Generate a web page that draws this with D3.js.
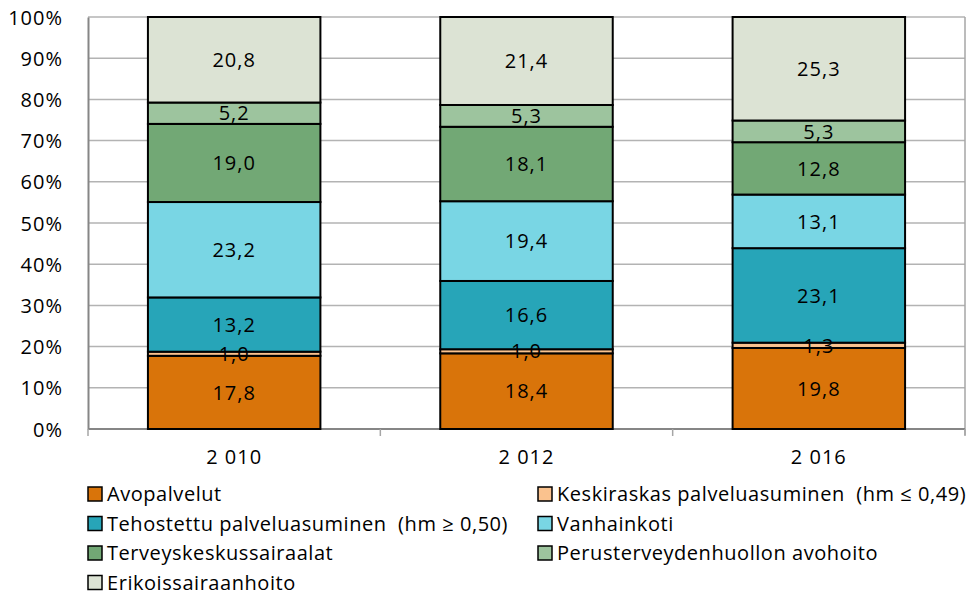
<!DOCTYPE html>
<html><head><meta charset="utf-8">
<script src="https://cdn.jsdelivr.net/npm/d3@7"></script>
<style>body{margin:0;background:#fff}svg{display:block}text{font-family:"Open Sans","Liberation Sans",sans-serif;fill:#000;white-space:pre}</style>
</head><body><svg id="c" width="974" height="595"></svg>
<script>
const categories = ["2 010", "2 012", "2 016"];
const seriesNames = ["Avopalvelut", "Keskiraskas palveluasuminen  (hm ≤ 0,49)", "Tehostettu palveluasuminen  (hm ≥ 0,50)", "Vanhainkoti", "Terveyskeskussairaalat", "Perusterveydenhuollon avohoito", "Erikoissairaanhoito"];
const avopalvelut = [17.8, 18.4, 19.8];
const keskiraskas = [1.0, 1.0, 1.3];
const tehostettu = [13.2, 16.6, 23.1];
const vanhainkoti = [23.2, 19.4, 13.1];
const terveyskeskus = [19.0, 18.1, 12.8];
const perusterveys = [5.2, 5.3, 5.3];
const erikois = [20.8, 21.4, 25.3];
const yTicks = [0, 10, 20, 30, 40, 50, 60, 70, 80, 90, 100];
const colors = ["#D9740A", "#FAC28E", "#27A5B8", "#79D6E4", "#72A875", "#9DC49E", "#DCE3D4"];

const series = [avopalvelut, keskiraskas, tehostettu, vanhainkoti, terveyskeskus, perusterveys, erikois];
const fmt = v => v.toFixed(1).replace(".", ",");

const svg = d3.select("#c");
const L = 88, R = 965, T = 17, B = 429;
const x = d3.scaleBand().domain(categories).range([L, R]).paddingInner(0.41).paddingOuter(0.205);
const y = d3.scaleLinear().domain([0, 100]).range([B, T]);

svg.append("g").selectAll("line").data(yTicks.filter(t => t > 0)).join("line")
  .attr("x1", L).attr("x2", R).attr("y1", d => y(d)).attr("y2", d => y(d))
  .attr("stroke", "#b3b3b3").attr("stroke-width", 1.5);
svg.append("line").attr("x1", R).attr("x2", R).attr("y1", T).attr("y2", B + 6)
  .attr("stroke", "#a6a6a6").attr("stroke-width", 1.5);

const yAxis = svg.append("g").attr("transform", `translate(${L},0)`)
  .call(d3.axisLeft(y).tickValues(yTicks).tickFormat(d => d + "%").tickSize(0).tickPadding(25));
yAxis.select(".domain").attr("stroke", "#868686").attr("stroke-width", 2);
yAxis.selectAll("text").style("font-size", "20px").attr("dy", "0.35em").style("letter-spacing", "1px");

const xAxis = svg.append("g").attr("transform", `translate(0,${B})`)
  .call(d3.axisBottom(x).tickSize(0).tickPadding(21));
xAxis.select(".domain").attr("stroke", "#868686").attr("stroke-width", 2).attr("d", `M${L},0H${R}`);
xAxis.selectAll("text").style("font-size", "20px").style("letter-spacing", "1px");
const bounds = [L, ...categories.map(c => x(c) + x.bandwidth() + x.step() * x.paddingInner() / 2)];
bounds[3] = R;
svg.append("g").selectAll("line").data(bounds).join("line")
  .attr("x1", d => d).attr("x2", d => d).attr("y1", B).attr("y2", B + 7)
  .attr("stroke", "#a6a6a6").attr("stroke-width", 1.5);

const rows = categories.map((c, i) => {
  const o = { cat: c };
  const tot = d3.sum(series, s => s[i]);
  series.forEach((s, j) => { o["s" + j] = s[i] / tot * 100; o["v" + j] = s[i]; });
  return o;
});
const keys = series.map((_, j) => "s" + j);
const stack = d3.stack().keys(keys)(rows);

const g = svg.append("g");
stack.forEach((layer, j) => {
  g.append("g").selectAll("rect").data(layer).join("rect")
    .attr("x", d => x(d.data.cat)).attr("width", x.bandwidth())
    .attr("y", d => y(d[1])).attr("height", d => y(d[0]) - y(d[1]))
    .attr("fill", colors[j]).attr("stroke", "#000").attr("stroke-width", 2);
});
stack.forEach((layer, j) => {
  g.append("g").selectAll("text").data(layer).join("text")
    .attr("x", d => x(d.data.cat) + x.bandwidth() / 2)
    .attr("y", d => (y(d[0]) + y(d[1])) / 2)
    .attr("dy", "0.36em").attr("text-anchor", "middle").style("font-size", "20px").style("letter-spacing", "1px")
    .text(d => fmt(d.data["v" + j]));
});

const lg = svg.append("g");
seriesNames.forEach((n, j) => {
  const col = j % 2, row = Math.floor(j / 2);
  const lx = col === 0 ? 88 : 538, ly = 494 + row * 29.5;
  lg.append("rect").attr("x", lx).attr("y", ly - 7).attr("width", 14).attr("height", 14)
    .attr("fill", colors[j]).attr("stroke", "#000").attr("stroke-width", 1.5);
  lg.append("text").attr("x", lx + 19).attr("y", ly).attr("dy", "0.36em")
    .style("font-size", "20px").style("letter-spacing", "0.55px").text(n);
});
</script></body></html>
